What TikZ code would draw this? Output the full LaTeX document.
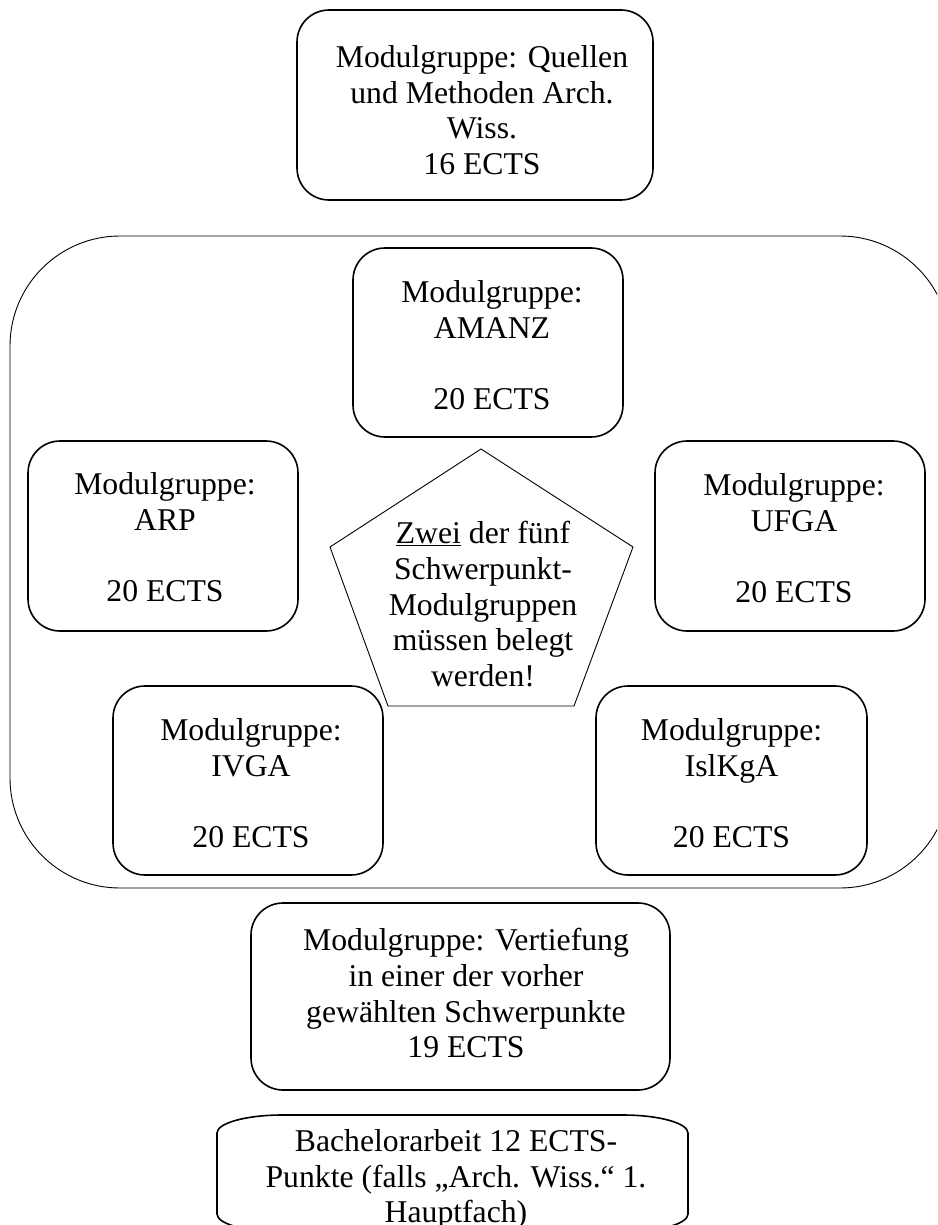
\documentclass[tikz,border=0pt]{standalone}
\usepackage{fontspec}
\setmainfont{Liberation Serif}
\newcommand\bigfs{\fontsize{31.7}{35.7}\selectfont}
\begin{document}
\begin{tikzpicture}[x=1pt,y=-1pt,
  box/.style={draw, line width=1.6pt, rounded corners=32pt, inner sep=0pt},
  txt/.style={align=center, inner sep=0pt, anchor=north, font=\bigfs},
  thinline/.style={draw, line width=0.9pt}]
\useasboundingbox (0,0) rectangle (937,1225);
\clip (0,0) rectangle (937,1225);

% top box
\node[box, minimum width=356pt, minimum height=190pt] (quellen) at (475,105) {};
\node[txt] (quellenT) at (482,45.3) {Modulgruppe: Quellen\\und Methoden Arch.\\Wiss.\\16 ECTS};

% large frame
\node[thinline, rounded corners=110pt, inner sep=0pt, minimum width=940pt, minimum height=652pt] (frame) at (480,562) {};

% AMANZ
\node[box, minimum width=270pt, minimum height=189pt] (amanz) at (488,342.5) {};
\node[txt] (amanzT) at (492,280.3) {Modulgruppe:\\AMANZ\\[36pt]20 ECTS};

% ARP
\node[box, minimum width=270pt, minimum height=190pt] (arp) at (163,536) {};
\node[txt] (arpT) at (165,472.3) {Modulgruppe:\\ARP\\[36pt]20 ECTS};

% UFGA
\node[box, minimum width=270pt, minimum height=190pt] (ufga) at (790,536) {};
\node[txt] (ufgaT) at (794,473.3) {Modulgruppe:\\UFGA\\[36pt]20 ECTS};

% IVGA
\node[box, minimum width=270pt, minimum height=189pt] (ivga) at (248,780.5) {};
\node[txt] (ivgaT) at (251,718.3) {Modulgruppe:\\IVGA\\[36pt]20 ECTS};

% IslKgA
\node[box, minimum width=271pt, minimum height=189pt] (islkga) at (731.5,780.5) {};
\node[txt] (islkgaT) at (731.5,718.3) {Modulgruppe:\\IslKgA\\[36pt]20 ECTS};

% pentagon
\coordinate (p1) at (481,449);
\coordinate (p2) at (633,547);
\coordinate (p3) at (574,706);
\coordinate (p4) at (388,706);
\coordinate (p5) at (330,547);
\draw[thinline] (p1) -- (p2) -- (p3) -- (p4) -- (p5) -- cycle;
\node[txt] (pentT) at (483,521.3) {\underline{Zwei} der fünf\\Schwerpunkt-\\Modulgruppen\\müssen belegt\\werden!};

% Vertiefung
\node[box, minimum width=419pt, minimum height=187pt] (vert) at (460.5,996.5) {};
\node[txt] (vertT) at (466,928.3) {Modulgruppe: Vertiefung\\in einer der vorher\\gewählten Schwerpunkte\\19 ECTS};

% Bachelorarbeit
\coordinate (b1) at (217,1133);
\coordinate (b2) at (282,1115);
\coordinate (b3) at (623,1115);
\coordinate (b4) at (688,1133);
\coordinate (b5) at (688,1214);
\coordinate (b6) at (623,1232);
\coordinate (b7) at (282,1232);
\coordinate (b8) at (217,1214);
\draw[line width=1.6pt] (b1) .. controls (217,1123.1) and (246.1,1115) .. (b2)
  -- (b3) .. controls (658.9,1115) and (688,1123.1) .. (b4)
  -- (b5) .. controls (688,1223.9) and (658.9,1232) .. (b6)
  -- (b7) .. controls (246.1,1232) and (217,1223.9) .. (b8) -- cycle;
\node[txt] (bachT) at (456,1129.3) {Bachelorarbeit 12 ECTS-\\Punkte (falls „Arch. Wiss.“ 1.\\Hauptfach)};
\end{tikzpicture}
\end{document}
